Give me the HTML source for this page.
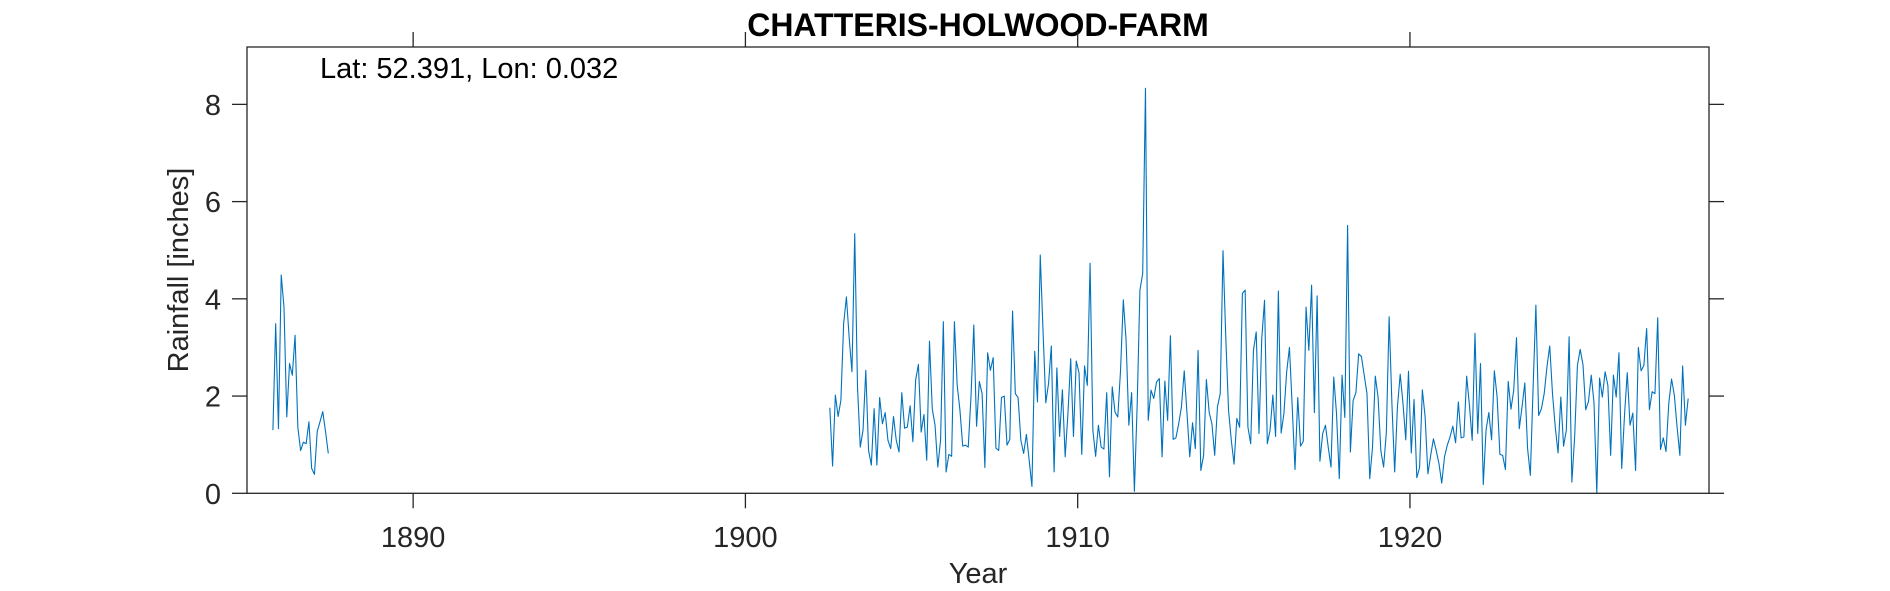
<!DOCTYPE html>
<html><head><meta charset="utf-8"><style>
html,body{margin:0;padding:0;background:#fff;}
svg{display:block;font-family:"Liberation Sans",Arial,sans-serif;}
</style></head><body>
<svg id="chart" width="1890" height="591" viewBox="0 0 1890 591" xmlns="http://www.w3.org/2000/svg">
<rect x="0" y="0" width="1890" height="591" fill="#fff"/>
<text x="978" y="36" text-anchor="middle" font-size="32" font-weight="bold" fill="#000">CHATTERIS-HOLWOOD-FARM</text>
<text x="320" y="78" font-size="29" fill="#000">Lat: 52.391, Lon: 0.032</text>
<g id="ticks"></g>
<g id="lines"></g>
<rect x="247" y="47" width="1462" height="446.3" fill="none" stroke="#262626" stroke-width="1.3"/>
<text x="978" y="583" text-anchor="middle" font-size="29" fill="#262626">Year</text>
<text transform="translate(188,270) rotate(-90)" text-anchor="middle" font-size="29" fill="#262626">Rainfall [inches]</text>
</svg>
<script>
const xTicks = [1890, 1900, 1910, 1920];
const yTicks = [0, 2, 4, 6, 8];
const seg1Start = 1885.78;
const seg1Values = [1.30,3.49,1.33,4.49,3.83,1.57,2.67,2.43,3.25,1.36,0.88,1.05,1.02,1.47,0.51,0.39,1.27,1.47,1.68,1.27,0.82];
const seg2Start = 1902.54;
const seg2Values = [1.76,0.56,2.02,1.58,1.91,3.49,4.04,3.20,2.50,5.34,2.19,0.95,1.30,2.53,0.88,0.58,1.74,0.58,1.97,1.43,1.66,1.09,0.92,1.58,1.09,0.85,2.07,1.34,1.36,1.80,1.06,2.33,2.65,1.26,1.62,0.68,3.13,1.74,1.40,0.54,1.09,3.53,0.44,0.80,0.76,3.53,2.22,1.71,0.97,0.99,0.95,2.00,3.46,1.38,2.30,2.05,0.53,2.89,2.53,2.79,0.93,0.88,1.97,2.00,0.99,1.11,3.75,2.05,1.97,1.09,0.82,1.21,0.68,0.14,2.92,1.88,
4.90,3.35,1.86,2.26,3.03,0.44,2.58,1.17,2.13,0.75,1.64,2.77,1.17,2.72,2.48,0.80,2.62,2.22,4.73,1.30,0.76,1.40,0.95,0.91,2.07,0.34,2.19,1.67,1.57,2.53,3.98,3.15,1.40,2.07,0.04,1.81,4.18,4.52,8.33,1.50,2.12,1.95,2.29,2.36,0.75,2.31,1.50,3.24,1.11,1.14,1.43,1.78,2.52,1.64,0.75,1.45,0.92,2.94,0.47,0.78,2.34,1.67,1.43,0.78,1.78,2.05,4.99,3.22,1.71,1.09,0.60,1.54,1.36,4.11,4.18,1.36,1.02,2.94,3.32,
1.23,3.18,3.97,1.02,1.30,2.02,1.17,4.16,1.24,1.64,2.50,3.00,1.78,0.49,1.97,0.97,1.07,3.83,2.94,4.28,1.66,4.06,0.66,1.23,1.40,0.95,0.54,2.39,1.64,0.30,2.43,1.56,5.51,0.85,1.91,2.07,2.87,2.81,2.43,2.05,0.30,0.95,2.41,1.98,0.88,0.54,1.26,3.63,1.85,0.44,1.78,2.45,1.85,1.10,2.51,0.83,1.93,0.32,0.53,2.13,1.57,0.40,0.78,1.12,0.88,0.61,0.21,0.75,0.99,1.16,1.38,1.04,1.88,1.14,1.16,2.41,1.81,1.09,3.29,
1.23,2.67,0.18,1.30,1.66,1.10,2.52,1.98,0.80,0.78,0.49,2.30,1.73,2.12,3.20,1.33,1.78,2.27,0.92,0.37,2.19,3.87,1.60,1.74,2.05,2.60,3.03,2.05,1.36,0.83,1.98,0.97,1.30,3.22,0.23,1.16,2.63,2.96,2.65,1.72,1.89,2.43,1.85,0.00,2.37,1.98,2.50,2.22,0.78,2.43,1.98,2.89,0.51,1.60,2.48,1.40,1.65,0.47,3.00,2.52,2.63,3.39,1.72,2.09,2.05,3.61,0.90,1.14,0.86,1.85,2.35,2.02,1.36,0.78,2.62,1.40,1.95];

const X0=247, X1=1709, Y0=493.3, Y1=47, XMIN=1885.0, XMAX=1929.0, YMIN=0, YMAX=9.18;
const xs = v => X0 + (v - XMIN) / (XMAX - XMIN) * (X1 - X0);
const ys = v => Y0 - (v - YMIN) / (YMAX - YMIN) * (Y0 - Y1);
const NS = 'http://www.w3.org/2000/svg';
const tg = document.getElementById('ticks');
const lg = document.getElementById('lines');
function mk(tag, attrs, parent){ const e=document.createElementNS(NS,tag); for(const k in attrs) e.setAttribute(k,attrs[k]); parent.appendChild(e); return e; }

xTicks.forEach(t => {
  const x = xs(t);
  const a = mk('line',{x1:x,y1:Y0,x2:x,y2:Y0+15,stroke:'#262626','stroke-width':1.3},tg);
  
  
  const b = mk('line',{x1:x,y1:Y1,x2:x,y2:Y1-15,stroke:'#262626','stroke-width':1.3},tg);
  
  
  const l = mk('text',{x:x,y:547,'text-anchor':'middle','font-size':29,fill:'#262626'},tg);
  l.textContent = t;
  
  
});
yTicks.forEach(t => {
  const y = ys(t);
  const a = mk('line',{x1:X0-15,y1:y,x2:X0,y2:y,stroke:'#262626','stroke-width':1.3},tg);
  
  
  const b = mk('line',{x1:X1,y1:y,x2:X1+15,y2:y,stroke:'#262626','stroke-width':1.3},tg);
  
  
  const l = mk('text',{x:221,y:y+10.5,'text-anchor':'end','font-size':29,fill:'#262626'},tg);
  l.textContent = t;
  
  
});
function drawSeg(start, vals, name){
  const pts = vals.map((v,i)=> xs(start + i/12).toFixed(2)+','+ys(v).toFixed(2)).join(' ');
  const p = mk('polyline',{points:pts,fill:'none',stroke:'#0072BD','stroke-width':1.1,'stroke-linejoin':'round'},lg);
  
  
}
drawSeg(seg1Start, seg1Values, 'rainfall-line-1885');
drawSeg(seg2Start, seg2Values, 'rainfall-line-1902');
</script>
</body></html>
